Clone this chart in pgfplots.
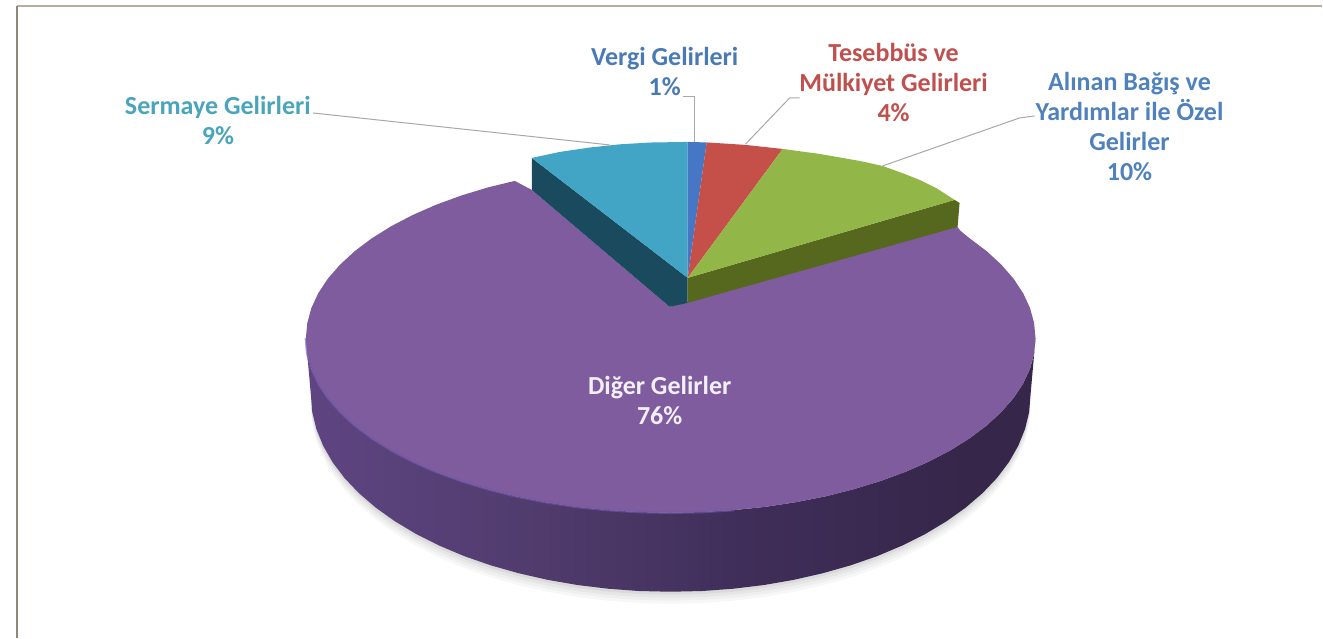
\documentclass[border=0pt]{standalone}
\usepackage{pgfplots}
\usepackage{pgfplotstable}
\usepackage{fontspec}
\setmainfont{Carlito}
\pgfplotsset{compat=1.18}
\definecolor{ptop}{HTML}{7E5C9D}
\definecolor{prim}{HTML}{7558A8}
\definecolor{tealtop}{HTML}{42A5C5}
\definecolor{tealside}{HTML}{1A4A5E}
\definecolor{bluetop}{HTML}{4577C4}
\definecolor{redtop}{HTML}{C5504A}
\definecolor{greentop}{HTML}{93B648}
\definecolor{greenside}{HTML}{56681E}
\definecolor{leader}{HTML}{A8A8A8}
\definecolor{frametop}{HTML}{B8AE9E}
\definecolor{frameleft}{HTML}{8F8878}
\pgfdeclarehorizontalshading{sideshade}{100bp}{
 rgb(0bp)=(0.44,0.31,0.61);
 rgb(8bp)=(0.42,0.30,0.58);
 rgb(25bp)=(0.37,0.27,0.51);
 rgb(42bp)=(0.31,0.23,0.42);
 rgb(55bp)=(0.25,0.18,0.35);
 rgb(70bp)=(0.21,0.15,0.29);
 rgb(100bp)=(0.20,0.14,0.28)}
\pgfplotstableread{
x y
1031 395
1029.6 412.2
1025.5 429.2
1018.7 446
1009.3 462.4
997.3 478.3
982.8 493.5
965.9 508
946.8 521.6
925.6 534.3
902.4 545.9
877.5 556.4
851 565.6
823.1 573.5
794.1 580.1
764.2 585.3
733.5 589
702.4 591.3
671 592
639.6 591.3
608.5 589
577.8 585.3
547.9 580.1
518.9 573.5
491 565.6
464.5 556.4
439.6 545.9
416.4 534.3
395.2 521.6
376.1 508
359.2 493.5
344.7 478.3
332.7 462.4
323.3 446
316.5 429.2
312.4 412.2
311 395
}\bottomarc
\pgfplotstableread{
x y
957 226
961 231
970 238.4
987.1 251.25
1001.8 264.8
1014 278.8
1023.6 293.3
1030.5 308.2
1034.6 323.3
1036 338.5
1034.6 353.7
1030.5 368.8
1023.6 383.7
1014 398.2
1001.8 412.2
987.1 425.75
970 438.6
950.6 450.7
929.1 461.9
905.6 472.2
880.4 481.4
853.5 489.6
825.3 496.7
795.8 502.5
765.5 507.1
734.4 510.3
702.8 512.3
671 513
639.2 512.3
607.6 510.3
576.5 507.1
546.2 502.5
516.7 496.7
488.5 489.6
461.6 481.4
436.4 472.2
412.9 461.9
391.4 450.7
372 438.6
354.9 425.75
340.2 412.2
328 398.2
318.4 383.7
311.5 368.8
307.4 353.7
306 338.5
307.4 323.3
311.5 308.2
318.4 293.3
328 278.8
340.2 264.8
354.9 251.25
372 238.4
391.4 226.3
412.9 215.1
436.4 204.8
461.6 195.6
488.5 187.4
515 181
532 190
670 307
688 302
}\purpletop
\pgfplotstableread{
x y
1036 338.5
1034.6 353.7
1030.5 368.8
1023.6 383.7
1014 398.2
1001.8 412.2
987.1 425.75
970 438.6
950.6 450.7
929.1 461.9
905.6 472.2
880.4 481.4
853.5 489.6
825.3 496.7
795.8 502.5
765.5 507.1
734.4 510.3
702.8 512.3
671 513
639.2 512.3
607.6 510.3
576.5 507.1
546.2 502.5
516.7 496.7
488.5 489.6
461.6 481.4
436.4 472.2
412.9 461.9
391.4 450.7
372 438.6
354.9 425.75
340.2 412.2
328 398.2
318.4 383.7
311.5 368.8
307.4 353.7
306 338.5
311 395
312.4 412.2
316.5 429.2
323.3 446
332.7 462.4
344.7 478.3
359.2 493.5
376.1 508
395.2 521.6
416.4 534.3
439.6 545.9
464.5 556.4
491 565.6
518.9 573.5
547.9 580.1
577.8 585.3
608.5 589
639.6 591.3
671 592
702.4 591.3
733.5 589
764.2 585.3
794.1 580.1
823.1 573.5
851 565.6
877.5 556.4
902.4 545.9
925.6 534.3
946.8 521.6
965.9 508
982.8 493.5
997.3 478.3
1009.3 462.4
1018.7 446
1025.5 429.2
1029.6 412.2
1031 395
}\purpleside
\pgfplotstableread{
x y
734.4 510.3
702.8 512.3
671 513
639.2 512.3
607.6 510.3
576.5 507.1
546.2 502.5
516.7 496.7
488.5 489.6
461.6 481.4
436.4 472.2
412.9 461.9
391.4 450.7
372 438.6
354.9 425.75
340.2 412.2
328 398.2
318.4 383.7
311.5 368.8
307.4 353.7
306 338.5
}\rimleft
\begin{document}
\begin{tikzpicture}
\begin{axis}[
  hide axis, scale only axis, width=1323pt, height=638pt,
  xmin=0, xmax=1323, ymin=0, ymax=638, y dir=reverse, clip=false]
% page extent
\path (axis cs:0,0) rectangle (axis cs:1323,638);
% frame
\addplot[frametop, line width=1.2pt] coordinates {(17,6) (1323,6)};
\addplot[frameleft, line width=1.2pt] coordinates {(17,6) (17,638)};
% soft shadow
\addplot[draw=none, fill=black, fill opacity=0.03, yshift=-12pt] table {\bottomarc};
\addplot[draw=none, fill=black, fill opacity=0.03, yshift=-9pt] table {\bottomarc};
\addplot[draw=none, fill=black, fill opacity=0.04, yshift=-6pt] table {\bottomarc};
\addplot[draw=none, fill=black, fill opacity=0.05, yshift=-3pt] table {\bottomarc};
\addplot[draw=none, shading=sideshade] table {\purpleside};
\addplot[draw=none, fill=ptop] table {\purpletop};
\addplot[prim, line width=2.5pt, opacity=0.6] table {\rimleft};
% small slices: sides
\addplot[draw=none, fill=tealside] coordinates {(532,158) (688,278) (688,303) (670,307) (532,190)};
\addplot[draw=none, fill=greenside] coordinates {(688,278) (955,200) (960,203) (958,227) (688,303)};
% small slices: tops
\addplot[draw=none, fill=tealtop] coordinates {(532,158) (560,152) (590,147.6) (620,144.4) (650,142.6) (688,142) (688,278)};
\addplot[draw=none, fill=bluetop] coordinates {(688,142) (707,142.5) (688,278)};
\addplot[draw=none, fill=redtop] coordinates {(707,142.5) (745,144.9) (783,149) (688,278)};
\addplot[draw=none, fill=greentop] coordinates {(783,149) (820,154) (860,161) (883,166) (905,174) (920,180) (938,189) (955,200) (688,278)};
% leader lines
\addplot[leader, line width=1pt] coordinates {(313,113) (610,145)};
\addplot[leader, line width=1pt] coordinates {(683,97) (695,97) (695,142)};
\addplot[leader, line width=1pt] coordinates {(800,98) (790,98) (746,144)};
\addplot[leader, line width=1pt] coordinates {(1035,116) (1020,118) (883,166)};
% labels
\node[align=center, font=\fontsize{26}{30}\selectfont\bfseries, text={rgb,255:red,74;green,122;blue,181}] at (axis cs:665,72) {Vergi Gelirleri\\1\%};
\node[align=center, font=\fontsize{26}{30}\selectfont\bfseries, text={rgb,255:red,74;green,165;blue,188}] at (axis cs:218,121) {Sermaye Gelirleri\\9\%};
\node[align=center, font=\fontsize{26}{30}\selectfont\bfseries, text={rgb,255:red,192;green,80;blue,77}] at (axis cs:894,83) {Tesebbüs ve\\Mülkiyet Gelirleri\\4\%};
\node[align=center, font=\fontsize{26}{30}\selectfont\bfseries, text={rgb,255:red,79;green,129;blue,189}] at (axis cs:1130,127) {Alınan Bağış ve\\Yardımlar ile Özel\\Gelirler\\10\%};
\node[align=center, font=\fontsize{26}{30}\selectfont\bfseries, text={rgb,255:red,243;green,239;blue,248}] at (axis cs:660,401) {Diğer Gelirler\\76\%};
\end{axis}
\end{tikzpicture}
\end{document}
